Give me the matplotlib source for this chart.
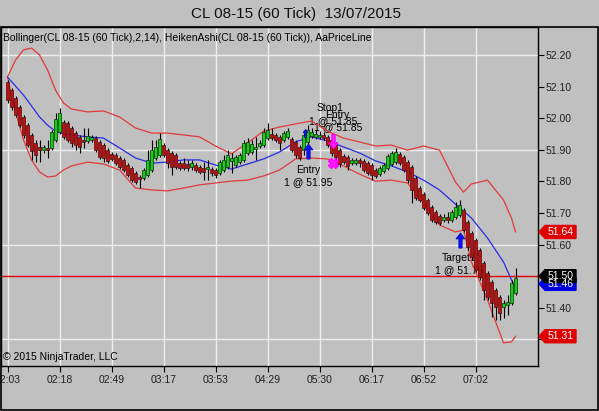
import matplotlib
matplotlib.use("Agg")
import matplotlib.pyplot as plt
import matplotlib.transforms as mtransforms
from matplotlib.path import Path
from matplotlib.patches import Polygon, Rectangle

plt.rcParams['font.family'] = ['Liberation Sans', 'DejaVu Sans']

# ---------------- data ----------------
title = "CL 08-15 (60 Tick)  13/07/2015"
legend_text = "Bollinger(CL 08-15 (60 Tick),2,14), HeikenAshi(CL 08-15 (60 Tick)), AaPriceLine"
copyright_text = "\u00a9 2015 NinjaTrader, LLC"

tick_bars = [0, 13, 26, 39, 52, 65, 78, 91, 104, 117]
tick_labels = ['02:03', '02:18', '02:49', '03:17', '03:53', '04:29', '05:30', '06:17', '06:52', '07:02']
y_ticks = [51.30, 51.40, 51.50, 51.60, 51.70, 51.80, 51.90, 52.00, 52.10, 52.20]
y_grid = [51.30, 51.60, 51.90, 52.20]

ha_open = [52.115, 52.089, 52.064, 52.035, 52.004, 51.978, 51.947, 51.922, 51.909, 51.899,
           51.906, 51.906, 51.931, 51.956, 51.988, 51.985, 51.969, 51.953, 51.941, 51.931,
           51.928, 51.931, 51.937, 51.925, 51.915, 51.899, 51.887, 51.884, 51.874, 51.868,
           51.852, 51.842, 51.827, 51.814, 51.811, 51.820, 51.836, 51.874, 51.884, 51.915,
           51.899, 51.890, 51.884, 51.858, 51.858, 51.855, 51.846, 51.852, 51.846, 51.842,
           51.839, 51.839, 51.836, 51.827, 51.836, 51.846, 51.865, 51.852, 51.861, 51.868,
           51.890, 51.893, 51.903, 51.912, 51.915, 51.937, 51.950, 51.947, 51.941, 51.931,
           51.941, 51.934, 51.925, 51.909, 51.899, 51.925, 51.944, 51.941, 51.941, 51.947,
           51.941, 51.931, 51.915, 51.899, 51.880, 51.877, 51.858, 51.858, 51.868, 51.865,
           51.858, 51.852, 51.836, 51.823, 51.833, 51.842, 51.855, 51.861, 51.887, 51.877,
           51.861, 51.846, 51.811, 51.779, 51.760, 51.741, 51.719, 51.703, 51.690, 51.678,
           51.687, 51.678, 51.687, 51.694, 51.709, 51.672, 51.637, 51.615, 51.583, 51.542,
           51.510, 51.482, 51.456, 51.434, 51.403, 51.409, 51.415, 51.447]
ha_close = [52.058, 52.035, 52.010, 51.978, 51.947, 51.915, 51.896, 51.884, 51.899, 51.909,
            51.899, 51.956, 51.997, 52.016, 51.941, 51.931, 51.922, 51.915, 51.909, 51.925,
            51.944, 51.941, 51.899, 51.877, 51.874, 51.865, 51.871, 51.858, 51.846, 51.836,
            51.820, 51.804, 51.798, 51.808, 51.836, 51.868, 51.899, 51.909, 51.934, 51.884,
            51.858, 51.846, 51.846, 51.842, 51.842, 51.842, 51.858, 51.836, 51.830, 51.830,
            51.846, 51.827, 51.820, 51.861, 51.868, 51.884, 51.874, 51.877, 51.884, 51.922,
            51.925, 51.918, 51.909, 51.922, 51.956, 51.963, 51.937, 51.931, 51.922, 51.953,
            51.959, 51.899, 51.884, 51.874, 51.947, 51.963, 51.956, 51.950, 51.947, 51.937,
            51.915, 51.890, 51.877, 51.855, 51.861, 51.849, 51.868, 51.868, 51.858, 51.836,
            51.827, 51.820, 51.817, 51.842, 51.852, 51.880, 51.890, 51.893, 51.858, 51.836,
            51.804, 51.773, 51.747, 51.741, 51.716, 51.700, 51.678, 51.672, 51.668, 51.687,
            51.678, 51.703, 51.719, 51.725, 51.646, 51.592, 51.561, 51.520, 51.497, 51.456,
            51.434, 51.415, 51.403, 51.384, 51.415, 51.418, 51.478, 51.494]
ha_high = [52.121, 52.096, 52.070, 52.042, 52.010, 51.985, 51.953, 51.931, 51.931, 51.915,
           51.931, 51.963, 52.016, 52.032, 51.994, 51.991, 51.975, 51.959, 51.947, 51.969,
           51.969, 51.947, 51.944, 51.931, 51.922, 51.906, 51.893, 51.890, 51.880, 51.874,
           51.858, 51.849, 51.833, 51.820, 51.842, 51.899, 51.931, 51.931, 51.953, 51.922,
           51.906, 51.896, 51.890, 51.865, 51.874, 51.868, 51.868, 51.858, 51.852, 51.861,
           51.868, 51.846, 51.842, 51.868, 51.884, 51.899, 51.890, 51.884, 51.890, 51.931,
           51.937, 51.931, 51.941, 51.931, 51.969, 51.985, 51.969, 51.953, 51.947, 51.959,
           51.969, 51.941, 51.931, 51.915, 51.953, 51.978, 51.969, 51.963, 51.959, 51.956,
           51.947, 51.937, 51.922, 51.906, 51.887, 51.884, 51.874, 51.874, 51.874, 51.871,
           51.865, 51.858, 51.842, 51.849, 51.858, 51.887, 51.896, 51.906, 51.893, 51.884,
           51.868, 51.852, 51.817, 51.785, 51.766, 51.747, 51.725, 51.709, 51.697, 51.697,
           51.703, 51.709, 51.735, 51.741, 51.716, 51.678, 51.643, 51.621, 51.589, 51.548,
           51.516, 51.488, 51.463, 51.440, 51.425, 51.440, 51.488, 51.526]
ha_low = [52.048, 52.026, 52.004, 51.972, 51.937, 51.909, 51.868, 51.861, 51.861, 51.890,
          51.874, 51.899, 51.925, 51.950, 51.934, 51.925, 51.909, 51.899, 51.890, 51.906,
          51.922, 51.925, 51.893, 51.871, 51.861, 51.858, 51.865, 51.852, 51.839, 51.830,
          51.814, 51.798, 51.792, 51.779, 51.804, 51.814, 51.830, 51.868, 51.877, 51.877,
          51.842, 51.820, 51.839, 51.836, 51.836, 51.833, 51.836, 51.830, 51.823, 51.804,
          51.804, 51.817, 51.811, 51.820, 51.830, 51.839, 51.827, 51.846, 51.855, 51.861,
          51.884, 51.887, 51.868, 51.906, 51.909, 51.931, 51.931, 51.925, 51.899, 51.925,
          51.934, 51.893, 51.874, 51.868, 51.884, 51.918, 51.937, 51.934, 51.934, 51.931,
          51.909, 51.880, 51.868, 51.846, 51.855, 51.836, 51.852, 51.852, 51.846, 51.830,
          51.820, 51.804, 51.811, 51.817, 51.827, 51.836, 51.849, 51.855, 51.852, 51.830,
          51.795, 51.732, 51.741, 51.735, 51.709, 51.694, 51.672, 51.665, 51.662, 51.672,
          51.668, 51.672, 51.681, 51.687, 51.640, 51.583, 51.551, 51.513, 51.488, 51.425,
          51.425, 51.371, 51.361, 51.361, 51.368, 51.377, 51.409, 51.440]

band_idx = [0, 2, 4, 6, 8, 10, 12, 14, 16, 20, 24, 28, 32, 36, 40, 44, 48, 52, 56, 60,
            64, 68, 72, 76, 80, 84, 88, 92, 96, 100, 104, 108, 112, 114, 116, 120, 124, 126, 127]
bb_upper = [52.130, 52.184, 52.216, 52.222, 52.200, 52.153, 52.089, 52.048, 52.029, 52.020,
            52.023, 52.004, 51.969, 51.953, 51.953, 51.947, 51.941, 51.912, 51.887, 51.922,
            51.959, 51.972, 51.982, 51.991, 51.959, 51.937, 51.925, 51.912, 51.915, 51.899,
            51.912, 51.899, 51.798, 51.766, 51.792, 51.804, 51.741, 51.684, 51.640]
bb_middle = [52.130, 52.102, 52.073, 52.039, 52.004, 51.978, 51.959, 51.950, 51.947, 51.941,
             51.937, 51.906, 51.874, 51.858, 51.861, 51.868, 51.868, 51.852, 51.839, 51.855,
             51.871, 51.893, 51.925, 51.941, 51.928, 51.909, 51.890, 51.865, 51.849, 51.830,
             51.804, 51.773, 51.728, 51.706, 51.684, 51.621, 51.545, 51.488, 51.460]
bb_lower = [52.130, 52.020, 51.931, 51.868, 51.830, 51.814, 51.817, 51.836, 51.849, 51.861,
            51.855, 51.836, 51.779, 51.773, 51.770, 51.779, 51.789, 51.795, 51.801, 51.804,
            51.817, 51.836, 51.871, 51.874, 51.871, 51.849, 51.823, 51.801, 51.804, 51.795,
            51.732, 51.662, 51.640, 51.646, 51.545, 51.425, 51.289, 51.292, 51.310]

last_price = 51.50
# (value, label, colour, vertical shift of the tag in pixels to avoid collision)
tags = [(51.64, '51.64', '#E00000', 0), (51.46, '51.46', '#0000E0', -5),
        (51.50, '51.50', '#000000', 0), (51.31, '51.31', '#E00000', 0)]

# ---------------- figure ----------------
W, H = 599, 411
BG = '#C0C0C0'
fig = plt.figure(figsize=(W / 100, H / 100), dpi=100, facecolor=BG)
ax_l, ax_r, ax_t, ax_b = 1, 538, 27, 366
ax = fig.add_axes([ax_l / W, (H - ax_b) / H, (ax_r - ax_l) / W, (ax_b - ax_t) / H])
ax.set_facecolor(BG)

px_per_bar = 4.0
first_px = 7.5
ax.set_xlim((ax_l - first_px) / px_per_bar, (ax_r - first_px) / px_per_bar)
ppu = 316.0
ax.set_ylim(52.20 - (ax_b - 55) / ppu, 52.20 + (55 - ax_t) / ppu)

# grid
for b in tick_bars:
    ax.axvline(b, color='#EEEEEE', lw=1.0, zorder=0.5)
for g in y_grid:
    ax.axhline(g, color='#EEEEEE', lw=1.0, zorder=0.5)

# price line
ax.axhline(last_price, color='#E00000', lw=1.0, zorder=1)

# bollinger
ax.plot(band_idx, bb_upper, color='#E03A3A', lw=0.9, zorder=2)
ax.plot(band_idx, bb_lower, color='#E03A3A', lw=0.9, zorder=2)
ax.plot(band_idx, bb_middle, color='#2A2AE6', lw=0.9, zorder=2)

# text labels for trades (under the bars)
fs = 7.5
ax.text(75.1, 51.836, 'Entry', fontsize=fs, ha='center', va='center', zorder=1.5)
ax.text(75.1, 51.799, '1 @ 51.95', fontsize=fs, ha='center', va='center', zorder=1.5)
ax.text(80.6, 52.032, 'Stop1', fontsize=fs, ha='center', va='center', zorder=1.5)
ax.text(82.4, 52.010, 'Entry', fontsize=fs, ha='center', va='center', zorder=1.5)
ax.text(81.4, 51.991, '1 @ 51.85', fontsize=fs, ha='center', va='center', zorder=1.5)
ax.text(82.6, 51.972, '1 @ 51.85', fontsize=fs, ha='center', va='center', zorder=1.5)
ax.text(108.6, 51.558, 'Target1', fontsize=fs, ha='left', va='center', zorder=1.5)
ax.text(106.9, 51.520, '1 @ 51.75', fontsize=fs, ha='left', va='center', zorder=1.5)

# heiken ashi bars
n = len(ha_open)
xs = list(range(n))
ax.vlines(xs, ha_low, ha_high, color='black', lw=0.8, zorder=3)
bottoms = [min(o, c) for o, c in zip(ha_open, ha_close)]
heights = [abs(c - o) for o, c in zip(ha_open, ha_close)]
colors = ['#00DD00' if c >= o else '#E00000' for o, c in zip(ha_open, ha_close)]
ax.bar(xs, heights, width=0.82, bottom=bottoms, color=colors, edgecolor='#202020',
       linewidth=0.5, zorder=4)

# trade markers
up_arrow = Path([(0, 1), (0.6, 0.2), (0.22, 0.2), (0.22, -1), (-0.22, -1), (-0.22, 0.2),
                 (-0.6, 0.2), (0, 1)],
                [Path.MOVETO] + [Path.LINETO] * 6 + [Path.CLOSEPOLY])
down_arrow = Path([(x, -y) for x, y in up_arrow.vertices], up_arrow.codes)
ax.plot([75.2], [51.896], marker=up_arrow, markersize=11, color='#1010FF',
        markeredgecolor='#000080', markeredgewidth=0.4, zorder=5)
ax.plot([74.4], [51.953], marker=up_arrow, markersize=6, color='#1010FF',
        markeredgecolor='#000080', markeredgewidth=0.4, zorder=5)
ax.plot([113.1], [51.615], marker=up_arrow, markersize=11, color='#1010FF',
        markeredgecolor='#000080', markeredgewidth=0.4, zorder=5)
ax.plot([81.4], [51.928], marker=down_arrow, markersize=10, color='#FF20FF',
        markeredgecolor='#FF00FF', zorder=5)
ax.plot([81.4], [51.858], marker='X', markersize=7, color='#FF20FF',
        markeredgecolor='#FF00FF', zorder=5)

# axes styling
for s in ['left', 'top', 'bottom', 'right']:
    ax.spines[s].set_color('black')
    ax.spines[s].set_linewidth(1.0)
ax.set_xticks(tick_bars)
ax.set_xticklabels(tick_labels)
ax.yaxis.tick_right()
ax.set_yticks(y_ticks)
ax.set_yticklabels(['%.2f' % v for v in y_ticks])
ax.tick_params(axis='x', direction='out', length=4.3, width=0.8, pad=2, labelsize=fs,
               colors='black', labelcolor='#202020')
ax.tick_params(axis='y', direction='out', length=4.3, width=0.8, pad=1.5, labelsize=fs,
               colors='black', labelcolor='#202020')

# legend and copyright
ax.text(2 / 537, (ax_b - 38) / (ax_b - ax_t), legend_text, transform=ax.transAxes,
        fontsize=fs, ha='left', va='center', zorder=6)
ax.text(2 / 537, (ax_b - 357) / (ax_b - ax_t), copyright_text, transform=ax.transAxes,
        fontsize=fs, ha='left', va='center', zorder=6)

# price tags on right axis
trans = mtransforms.blended_transform_factory(ax.transAxes, ax.transData)
def axx(px):
    return (px - ax_l) / (ax_r - ax_l)
hh = 6.5 / ppu
for val, lab, col, shift in tags:
    yc = val - shift / ppu
    poly = Polygon([(axx(539), yc), (axx(545), yc + hh), (axx(576), yc + hh),
                    (axx(576), yc - hh), (axx(545), yc - hh)], closed=True,
                   transform=trans, facecolor=col, edgecolor=col, clip_on=False, zorder=10)
    ax.add_patch(poly)
    ax.text(axx(561), yc, lab, transform=trans, color='white', fontsize=fs,
            ha='center', va='center', clip_on=False, zorder=11)

# title
fig.text(296 / W, 1 - 14 / H, title, fontsize=11, ha='center', va='center', color='#101010')

# outer frame
frame = Rectangle((0.5 / W, 1.5 / H), (W - 1.5) / W, (H - ax_t - 1.5) / H,
                  transform=fig.transFigure, fill=False, edgecolor='black', lw=1.2)
fig.add_artist(frame)

fig.savefig('out.png', dpi=100, facecolor=BG)
